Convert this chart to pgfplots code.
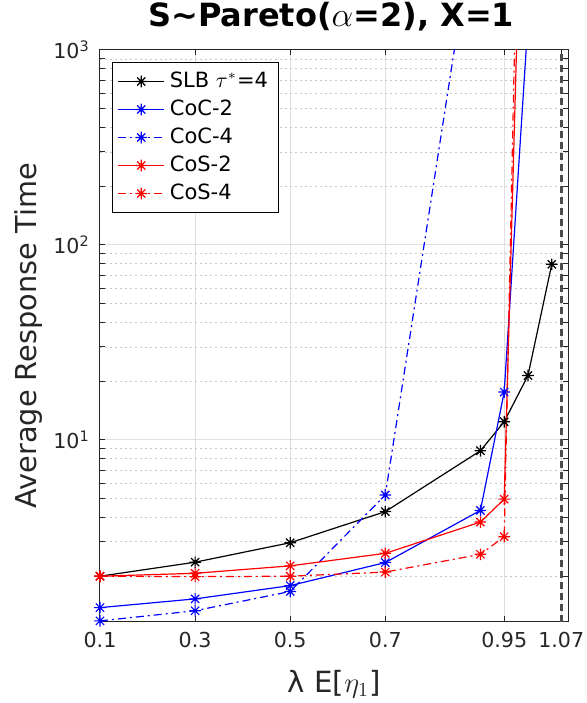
\documentclass[border=0pt]{standalone}
\usepackage{fontspec}
\setmainfont{DejaVu Sans}
\usepackage{pgfplots}
\pgfplotsset{compat=1.18}

% MATLAB-like asterisk: plus and cross together
\pgfdeclareplotmark{ast8}{%
  \pgfpathmoveto{\pgfqpoint{-\pgfplotmarksize}{0pt}}%
  \pgfpathlineto{\pgfqpoint{\pgfplotmarksize}{0pt}}%
  \pgfpathmoveto{\pgfqpoint{0pt}{-\pgfplotmarksize}}%
  \pgfpathlineto{\pgfqpoint{0pt}{\pgfplotmarksize}}%
  \pgfpathmoveto{\pgfqpoint{-.707\pgfplotmarksize}{-.707\pgfplotmarksize}}%
  \pgfpathlineto{\pgfqpoint{.707\pgfplotmarksize}{.707\pgfplotmarksize}}%
  \pgfpathmoveto{\pgfqpoint{-.707\pgfplotmarksize}{.707\pgfplotmarksize}}%
  \pgfpathlineto{\pgfqpoint{.707\pgfplotmarksize}{-.707\pgfplotmarksize}}%
  \pgfusepathqstroke}

\begin{document}
\begin{tikzpicture}
\begin{axis}[
    scale only axis, width=234.2bp, height=285.8bp,
    xmin=0.1, xmax=1.085,
    ymode=log, ymin=1.17, ymax=1000,
    xtick={0.1,0.3,0.5,0.7,0.95,1.07},
    xticklabels={0.1,0.3,0.5,0.7,0.95,1.07},
    ytick={10,100,1000},
    yticklabels={10\textsuperscript{1},10\textsuperscript{2},10\textsuperscript{3}},
    minor ytick={2,3,4,5,6,7,8,9,20,30,40,50,60,70,80,90,200,300,400,500,600,700,800,900},
    tick label style={font=\fontsize{10.3bp}{12bp}\selectfont, black!85},
    xticklabel style={anchor=base, yshift=-13bp},
    yticklabel style={xshift=-1.6bp},
    tick align=inside,
    major tick length=2.7bp, minor tick length=2.7bp,
    tick style={black!85, line width=0.5bp},
    axis line style={black!85, line width=0.5bp},
    xmajorgrids, ymajorgrids, yminorgrids,
    major grid style={gray!25, line width=0.5bp},
    minor grid style={gray!45, line width=0.4bp, dash pattern=on 1bp off 1.5bp},
    title={S\textasciitilde Pareto($\alpha$=2), X=1},
    title style={at={(axis description cs:0.5,1)}, anchor=base, yshift=6bp, xshift=-1.5bp,
        font=\bfseries\fontsize{16bp}{19bp}\selectfont},
    xlabel={λ E[$\eta_1$]},
    ylabel={Average Response Time},
    every axis x label/.style={at={(axis description cs:0.5,0)}, anchor=base, yshift=-35.5bp,
        font=\fontsize{14.6bp}{17bp}\selectfont, black!85},
    every axis y label/.style={at={(axis description cs:-0.1366,0.5)}, rotate=90, anchor=base,
        font=\fontsize{14.4bp}{17bp}\selectfont, black!85},
    legend style={at={(0.026,0.979)}, anchor=north west,
        font=\fontsize{10.5bp}{12bp}\selectfont,
        draw=black, line width=0.5bp, inner xsep=2.5bp, inner ysep=2.5bp,
        row sep=0bp, nodes={inner xsep=2.5bp, inner ysep=1.5bp, text height=8.5bp, text depth=2.5bp}},
    legend cell align=left,
    legend image code/.code={\draw[mark repeat=2,mark phase=2,#1] plot coordinates {(0bp,0bp) (11.5bp,0bp) (23bp,0bp)};},
    every axis plot/.append style={line width=0.6bp, mark=ast8, mark size=2.9bp, mark options={solid}},
]
\addplot[black] coordinates {(0.1,2.0) (0.3,2.36) (0.5,2.97) (0.7,4.29) (0.9,8.8) (0.95,12.4) (1.0,21.4) (1.05,79.6)};
\addplot[blue] coordinates {(0.1,1.38) (0.3,1.53) (0.5,1.79) (0.7,2.35) (0.9,4.35) (0.95,17.6) (1.0,1400)};
\addplot[blue, dash pattern=on 4bp off 2bp on 1bp off 2bp] coordinates {(0.1,1.18) (0.3,1.33) (0.5,1.67) (0.7,5.22) (0.9,7300)};
\addplot[red] coordinates {(0.1,2.0) (0.3,2.07) (0.5,2.26) (0.7,2.62) (0.9,3.79) (0.95,4.97) (1.0,140000)};
\addplot[red, dash pattern=on 4bp off 2bp on 1bp off 2bp] coordinates {(0.1,2.0) (0.3,1.99) (0.5,2.0) (0.7,2.10) (0.9,2.59) (0.95,3.19) (1.0,1900000)};
\addplot[forget plot, black!70, line width=1.3bp, dash pattern=on 3.5bp off 2bp, mark=none] coordinates {(1.07,1.17) (1.07,1000)};
\legend{SLB $\tau^{*}$=4, CoC-2, CoC-4, CoS-2, CoS-4}
\end{axis}
\pgfresetboundingbox
\path[use as bounding box] ([xshift=-50bp,yshift=-40.7bp]current axis.south west) rectangle ([xshift=9.3bp,yshift=25bp]current axis.north east);
\end{tikzpicture}
\end{document}
